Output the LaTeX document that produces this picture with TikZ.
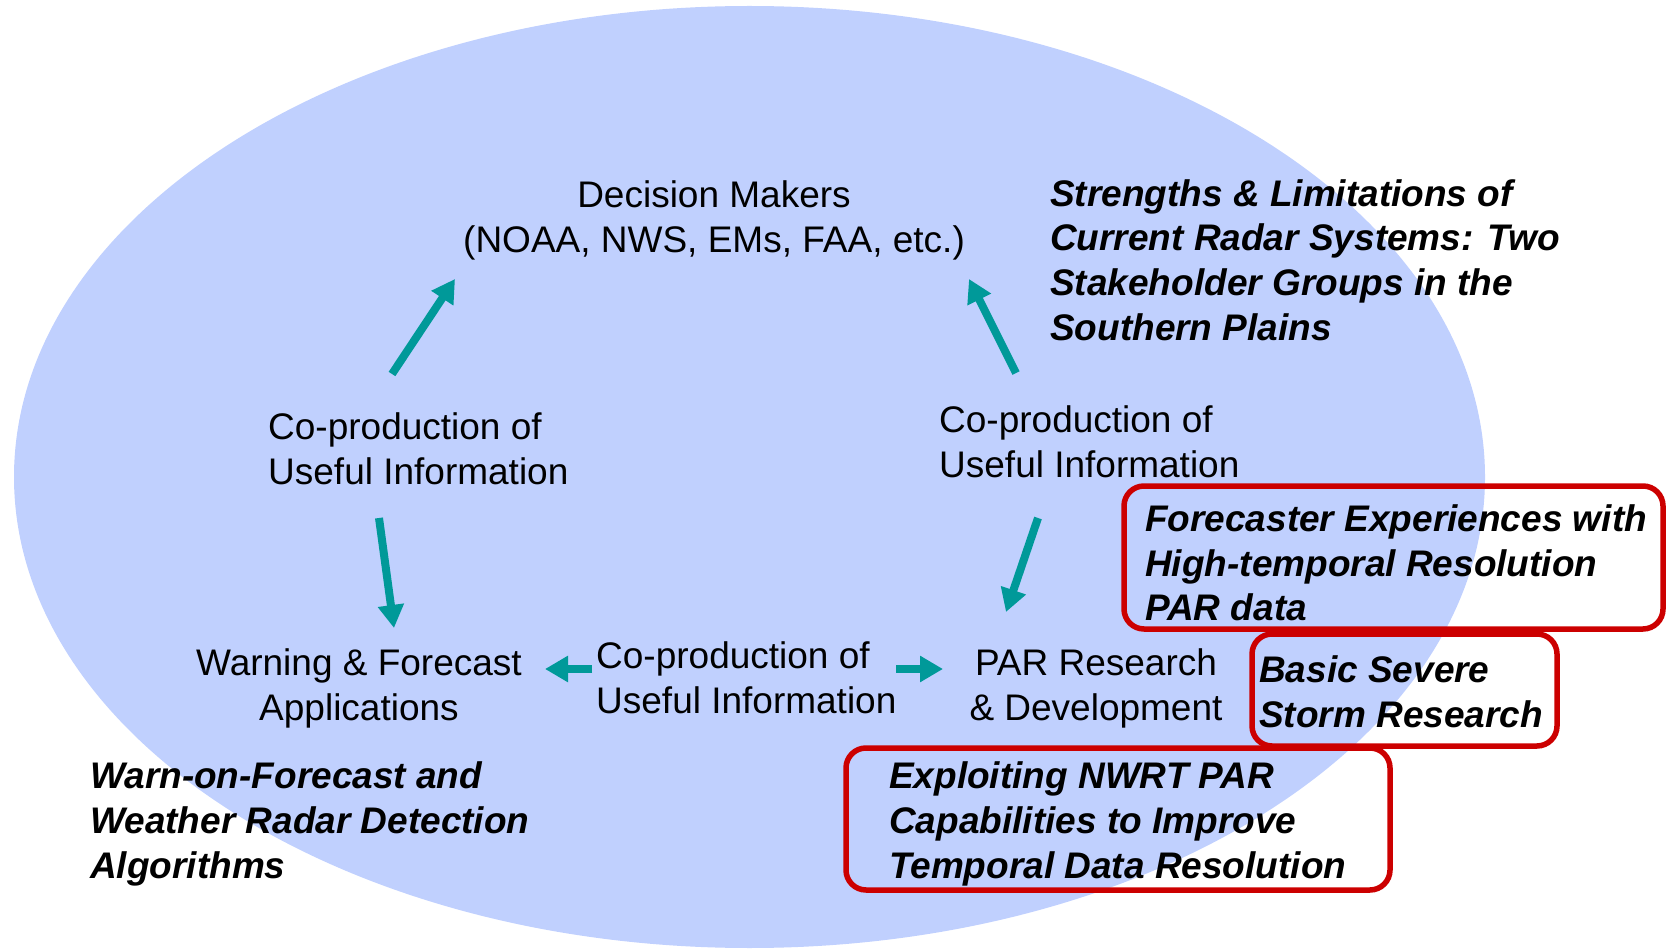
\documentclass[tikz,border=0pt]{standalone}
\usepackage{fontspec}
\setmainfont{Liberation Sans}
\usetikzlibrary{arrows.meta}
\definecolor{ellcol}{RGB}{192,208,254}
\definecolor{teal1}{RGB}{0,153,153}
\definecolor{redbox}{RGB}{204,0,0}
\tikzset{
  plain/.style={font=\fontsize{37}{45}\selectfont, inner sep=0pt, text=black},
  study/.style={font=\fontsize{37}{44.6}\selectfont\bfseries\itshape, inner sep=0pt, text=black, align=left},
  flow/.style={draw=teal1, line width=8pt, -{Triangle[width=25pt,length=23pt]}},
  redframe/.style={draw=redbox, line width=5.5pt, rounded corners=20pt}
}
\begin{document}
\begin{tikzpicture}[x=1pt,y=-1pt]
\useasboundingbox (0,0) rectangle (1666,949);
\fill[ellcol] (749.5,477) ellipse [x radius=735.5, y radius=471];

% main nodes
\node[plain, align=center] (dm) at (714,220) {Decision Makers\\(NOAA, NWS, EMs, FAA, etc.)};
\node[plain, align=left, anchor=west] (cpl) at (268,449) {Co-production of\\Useful Information};
\node[plain, align=left, anchor=west] (cpr) at (939,442) {Co-production of\\Useful Information};
\node[plain, align=center] (wf) at (359,688) {Warning \& Forecast\\Applications};
\node[plain, align=left, anchor=west] (cpm) at (596,678) {Co-production of\\Useful Information};
\node[plain, align=center] (par) at (1096,688) {PAR Research\\\& Development};

% study labels
\node[study, anchor=west] (s1) at (1050,260) {Strengths \& Limitations of\\Current Radar Systems: Two\\Stakeholder Groups in the\\Southern Plains};
\node[study, anchor=west] (s2) at (90,824) {Warn-on-Forecast and\\Weather Radar Detection\\Algorithms};
\node[study, anchor=west] (s3) at (1145,563) {Forecaster Experiences with\\High-temporal Resolution\\PAR data};
\node[study, anchor=west] (s4) at (1259,692) {Basic Severe\\Storm Research};
\node[study, anchor=west] (s5) at (889,824) {Exploiting NWRT PAR\\Capabilities to Improve\\Temporal Data Resolution};

% red frames
\draw[redframe] (1124,486) rectangle (1663,629);
\draw[redframe] (1252,634) rectangle (1557,746);
\draw[redframe] (846,748) rectangle (1390,890);

% arrow end points
\coordinate (a1s) at (392,374); \coordinate (a1e) at (455,279);
\coordinate (a2s) at (1016,373); \coordinate (a2e) at (969,279);
\coordinate (a3s) at (379,518); \coordinate (a3e) at (394,628);
\coordinate (a4s) at (1038,518); \coordinate (a4e) at (1006,612);
\coordinate (a5s) at (592,669); \coordinate (a5e) at (545,669);
\coordinate (a6s) at (896,669); \coordinate (a6e) at (943,669);

\draw[flow] (a1s) -- (a1e);
\draw[flow] (a2s) -- (a2e);
\draw[flow] (a3s) -- (a3e);
\draw[flow] (a4s) -- (a4e);
\draw[flow] (a5s) -- (a5e);
\draw[flow] (a6s) -- (a6e);
\end{tikzpicture}
\end{document}
